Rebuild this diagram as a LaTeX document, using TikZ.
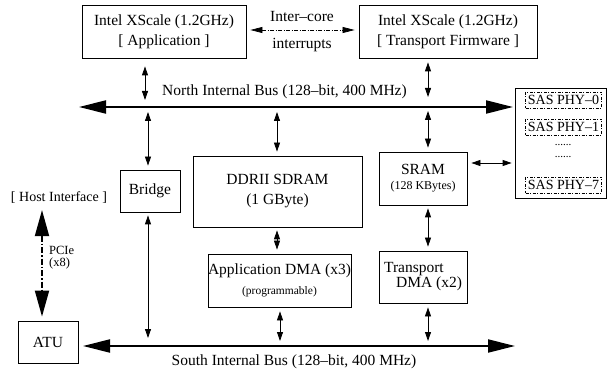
\documentclass[tikz,border=0pt]{standalone}
\usepackage{fontspec}
\setmainfont{Liberation Serif}
\usetikzlibrary{arrows.meta}
\begin{document}
\begin{tikzpicture}[x=1pt,y=-1pt,
  box/.style={draw,line width=0.8pt,inner sep=0pt,align=center,font=\fontsize{15.5}{20}\selectfont},
  dbl/.style={line width=0.8pt,{Triangle[length=9pt,width=6pt]}-{Triangle[length=9pt,width=6pt]}},
  bus/.style={line width=2pt,{Triangle[length=27pt,width=13pt]}-{Triangle[length=27pt,width=13pt]}},
  pcie/.style={line width=1.8pt,dash pattern=on 6pt off 2pt on 1.5pt off 2pt,{Triangle[length=26pt,width=14pt]}-{Triangle[length=26pt,width=14pt]}},
  ictl/.style={line width=0.7pt,dash pattern=on 4pt off 1.5pt on 1pt off 1.5pt,{Triangle[length=12pt,width=6pt]}-{Triangle[length=12pt,width=6pt]}},
  lbl/.style={font=\fontsize{15.5}{20}\selectfont,inner sep=0pt},
  phy/.style={draw,line width=0.6pt,dash pattern=on 3pt off 1.5pt on 1pt off 1.5pt,inner sep=0pt,minimum width=76pt,minimum height=16pt,font=\fontsize{14}{16}\selectfont}
]
\useasboundingbox (0,0) rectangle (607,371);

% boxes
\node[box,minimum width=164pt,minimum height=53pt] (app) at (164,31.5) {Intel XScale (1.2GHz)\\{[} Application ]};
\node[box,minimum width=178pt,minimum height=53pt] (tfw) at (448,31.5) {Intel XScale (1.2GHz)\\{[} Transport Firmware ]};
\node[box,minimum width=60pt,minimum height=42pt] (bridge) at (150,191) {Bridge};
\node[box,minimum width=169pt,minimum height=71pt] (ddr) at (277.5,191.5) {DDRII SDRAM\\(1 GByte)};
\node[box,minimum width=88pt,minimum height=53pt] (sram) at (423,178.5) {SRAM\\[-5pt]{\fontsize{12}{14}\selectfont (128 KBytes)}};
\node[box,minimum width=137pt,minimum height=53pt] (appdma) at (279.5,280.5) {Application DMA (x3)\\{\fontsize{11.5}{14}\selectfont (programmable)}};
\node[box,align=left,minimum width=88pt,minimum height=52pt] (tdma) at (423,277) {Transport\\[-5pt]\hspace*{12pt}DMA (x2)};
\node[box,minimum width=60pt,minimum height=42pt] (atu) at (48,342) {ATU};
\node[draw,line width=0.8pt,inner sep=0pt,minimum width=91pt,minimum height=110pt] (sas) at (560.5,143) {};
\node[phy] (phy0) at (563.5,100) {SAS PHY–0};
\node[phy] (phy1) at (563.5,127) {SAS PHY–1};
\node[phy] (phy7) at (563.5,185) {SAS PHY–7};
\node[inner sep=0pt,font=\fontsize{11}{12}\selectfont] (dots1) at (563,145) {......};
\node[inner sep=0pt,font=\fontsize{11}{12}\selectfont] (dots2) at (563,157) {......};

% labels
\node[lbl] (ic1) at (302,17) {Inter–core};
\node[lbl] (ic2) at (302,45) {interrupts};
\node[lbl] (nlab) at (284.5,92) {North Internal Bus (128–bit, 400 MHz)};
\node[lbl] (slab) at (294,362) {South Internal Bus (128–bit, 400 MHz)};
\node[lbl,font=\fontsize{14}{18}\selectfont] (host) at (59,198) {{[} Host Interface ]};
\node[inner sep=0pt,align=left,anchor=north west,font=\fontsize{12.5}{12.5}\selectfont] (pcielab) at (49,246) {PCIe\\(x8)};

% bus coordinates
\coordinate (nL) at (79,107);
\coordinate (nR) at (513,107);
\coordinate (sL) at (83,346);
\coordinate (sR) at (515,346);
\coordinate (xa) at (145,107);
\coordinate (nb) at (148,107);
\coordinate (nd) at (277,107);
\coordinate (nt) at (428,107);
\coordinate (sb) at (148,346);
\coordinate (se) at (280,346);
\coordinate (st) at (428,346);
\coordinate (ss) at (491,163);
\coordinate (icy) at (302,30);
\coordinate (px) at (42,300);

% buses
\draw[bus] (nL) -- (nR);
\draw[bus] (sL) -- (sR);

% connectors
\draw[dbl,shorten <=8pt,shorten >=7pt] (app.south -| xa) -- (xa);
\draw[dbl,shorten <=4pt,shorten >=10pt] (tfw.south -| nt) -- (nt);
\draw[dbl,shorten <=5pt,shorten >=4pt] (nb) -- (bridge.north -| nb);
\draw[dbl,shorten <=5pt,shorten >=4pt] (nd) -- (ddr.north -| nd);
\draw[dbl,shorten <=4pt,shorten >=4pt] (nt) -- (sram.north -| nt);
\draw[dbl,shorten <=3pt,shorten >=8pt] (bridge.south -| sb) -- (sb);
\draw[dbl,shorten <=3pt,shorten >=4pt] (ddr.south -| nd) -- (appdma.north -| nd);
\draw[dbl,shorten <=4pt,shorten >=5pt] (appdma.south -| se) -- (se);
\draw[dbl,shorten <=3pt,shorten >=4pt] (sram.south -| nt) -- (tdma.north -| nt);
\draw[dbl,shorten <=4pt,shorten >=5pt] (tdma.south -| st) -- (st);
\draw[dbl,shorten <=4pt,shorten >=3pt] (sram.east |- ss) -- (sas.west |- ss);
\draw[ictl,shorten <=4pt,shorten >=4pt] (app.east |- icy) -- (tfw.west |- icy);
\draw[pcie,shorten <=6pt,shorten >=4pt] (host.south -| px) -- (atu.north -| px);
\end{tikzpicture}
\end{document}
